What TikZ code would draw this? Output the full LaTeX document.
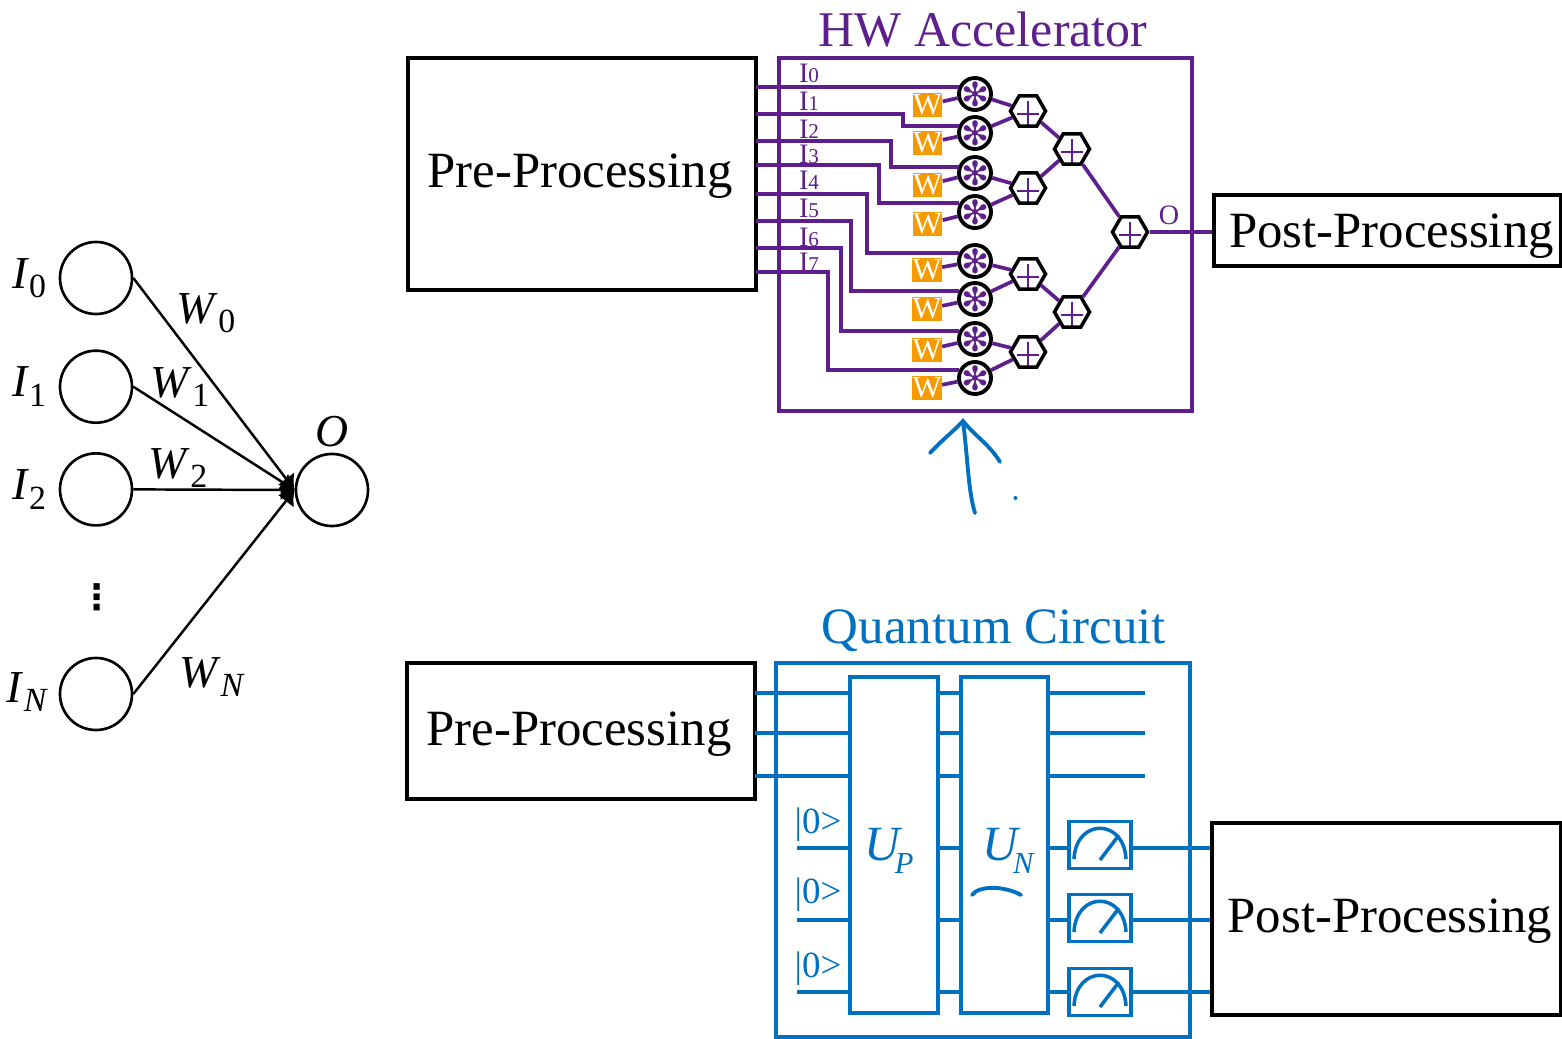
\documentclass[tikz,border=0pt]{standalone}
\usepackage{fontspec}
\setmainfont{Liberation Serif}
\newfontfamily\spokefont{DejaVu Sans}
\usetikzlibrary{positioning,shapes.geometric,arrows.meta}
\definecolor{hwpurple}{HTML}{5E1F8C}
\definecolor{qblue}{HTML}{0070C0}
\definecolor{wgold}{HTML}{F59B00}
\newcommand{\SubLabel}[2]{\textit{#1}\raisebox{-.45ex}{\scalebox{.74}{#2}}}
\newcommand{\GateLabel}[2]{#1\kern-.1em\raisebox{-.6ex}{\scalebox{.62}{#2}}}
\newcommand{\InLabel}[1]{I\scalebox{.75}{#1}}
\newcommand{\Spoke}{\raisebox{-.37em}[0pt][0pt]{\makebox[0pt]{✻}}}
\tikzset{
	neuron/.style={draw, circle, line width=.75pt, minimum size=.72cm, inner sep=0},
	nnedge/.style={line width=.7pt, -{Latex[length=4pt,width=6pt]}},
	nnlabel/.style={font=\fontsize{13}{13}\selectfont, inner sep=0},
	procbox/.style={draw, line width=1pt, inner sep=0},
	proctext/.style={inner sep=0, font=\fontsize{14.45}{15}\selectfont},
	hwbox/.style={draw=hwpurple, line width=1pt, inner sep=0},
	wire/.style={draw=hwpurple, line width=1.05pt},
	inlabel/.style={text=hwpurple, inner sep=0, font=\fontsize{8}{8}\selectfont},
	wbox/.style={fill=wgold, text=white, inner sep=0, minimum width=.29cm, minimum height=.23cm, font=\fontsize{8.7}{9}\selectfont},
	mult/.style={draw, circle, line width=1.1pt, fill=white, minimum size=.32cm, inner sep=0, text=hwpurple, font=\fontsize{9.5}{10}\selectfont\spokefont},
	sumhex/.style={draw, regular polygon, regular polygon sides=6, line width=1pt, fill=white, minimum size=.35cm, inner sep=0,
		path picture={\draw[hwpurple, line width=.65pt, shift={(path picture bounding box.center)}] (-11,3) -- (11,3) (0,-10) -- (0,16);}},
	qbox/.style={draw=qblue, line width=1pt, inner sep=0},
	qwire/.style={draw=qblue, line width=1.05pt},
	qtext/.style={text=qblue, inner sep=0, font=\fontsize{10.5}{11}\selectfont},
	gatelabel/.style={text=qblue, inner sep=0, font=\fontsize{14}{15}\selectfont\itshape},
	meter/.style={draw=qblue, line width=1pt, fill=white, minimum width=.62cm, minimum height=.47cm, inner sep=0,
		path picture={\draw[qblue, line width=1pt, shift={(path picture bounding box.center)}]
			(-26,14) .. controls (-24,-27) and (24,-27) .. (26,14) (0,15) -- (19,-10);}},
	ink/.style={draw=qblue, line width=1.1pt, line cap=round},
}
\begin{document}
\begin{tikzpicture}[x=.01cm, y=-.01cm]
	\useasboundingbox (0,0) rectangle (1562,1039);

	% Define the neuron
	\node[neuron] (I0) at (96,278) {};
	\node[neuron, below=.34cm of I0] (I1) {};
	\node[neuron, below=.28cm of I1] (I2) {};
	\node[neuron] (IN) at (96,694) {};
	\node[neuron] (O) at (332,490) {};
	\node[nnlabel, left=.12cm of I0] (LI0) {\SubLabel{I}{0}};
	\node[nnlabel, left=.12cm of I1] (LI1) {\SubLabel{I}{1}};
	\node[nnlabel, left=.12cm of I2] (LI2) {\SubLabel{I}{2}};
	\node[nnlabel, left=.1cm of IN, yshift=.02cm] (LIN) {\SubLabel{I}{\textit{N}}};
	\node[nnlabel] (L0) at (206,313) {\SubLabel{W}{0}};
	\node[nnlabel] (L1) at (180,387) {\SubLabel{W}{1}};
	\node[nnlabel] (L2) at (178,468) {\SubLabel{W}{2}};
	\node[nnlabel] (LN) at (212,677) {\SubLabel{W}{\textit{N}}};
	\node[nnlabel, above=.05cm of O] (LO) {\textit{O}};
	\node[inner sep=0, font=\fontsize{10}{10}\selectfont\spokefont\bfseries] (dots) at (97,597) {⋮};

	% Connect the neuron
	\draw[nnedge] (I0.east) -- (O.west);
	\draw[nnedge] (I1.east) -- (O.west);
	\draw[nnedge] (I2.east) -- (O.west);
	\draw[nnedge] (IN.east) -- (O.west);

	% Accelerator boxes
	\node[procbox, minimum width=3.48cm, minimum height=2.32cm] (PreA) at (582,174) {};
	\node[proctext] (PreAT) at (580,176) {Pre-Processing};
	\node[hwbox, minimum width=4.13cm, minimum height=3.53cm] (HW) at (985.5,234.5) {};
	\node[procbox, minimum width=3.47cm, minimum height=.71cm] (PostA) at (1387.5,230.5) {};
	\node[proctext] (PostAT) at (1391.5,236.5) {Post-Processing};
	\node[text=hwpurple, inner sep=0, font=\fontsize{14.2}{15}\selectfont] (HWT) at (983,30) {HW Accelerator};

	% Multipliers and weights
	\node[mult] (M0) at (975,94) {\Spoke};
	\node[mult] (M1) at (975,133) {\Spoke};
	\node[mult] (M2) at (975,173) {\Spoke};
	\node[mult] (M3) at (975,212) {\Spoke};
	\node[mult] (M4) at (975,261) {\Spoke};
	\node[mult] (M5) at (975,299) {\Spoke};
	\node[mult] (M6) at (975,339) {\Spoke};
	\node[mult] (M7) at (975,378) {\Spoke};
	\node[wbox] (W0) at (927.5,105) {W};
	\node[wbox] (W1) at (927.5,143) {W};
	\node[wbox] (W2) at (927.5,185) {W};
	\node[wbox] (W3) at (927.5,224) {W};
	\node[wbox] (W4) at (927,270) {W};
	\node[wbox] (W5) at (927,309) {W};
	\node[wbox] (W6) at (927,350) {W};
	\node[wbox] (W7) at (927,388) {W};

	% Adder tree
	\node[sumhex] (S0) at (1028,111) {};
	\node[sumhex] (S1) at (1028,188) {};
	\node[sumhex] (S2) at (1028,274) {};
	\node[sumhex] (S3) at (1028,352) {};
	\node[sumhex] (S4) at (1072,149) {};
	\node[sumhex] (S5) at (1072,312) {};
	\node[sumhex] (S6) at (1130,232) {};

	% Input labels
	\node[inlabel] (T0) at (809,73) {\InLabel{0}};
	\node[inlabel] (T1) at (809,101) {\InLabel{1}};
	\node[inlabel] (T2) at (809,129) {\InLabel{2}};
	\node[inlabel] (T3) at (809,154) {\InLabel{3}};
	\node[inlabel] (T4) at (809,180) {\InLabel{4}};
	\node[inlabel] (T5) at (809,208) {\InLabel{5}};
	\node[inlabel] (T6) at (809,237) {\InLabel{6}};
	\node[inlabel] (T7) at (809,262) {\InLabel{7}};
	\node[text=hwpurple, inner sep=0, font=\fontsize{8}{8}\selectfont] (TO) at (1169,215) {O};

	% Connect the inputs
	\coordinate (P0) at (756,87);
	\coordinate (P1) at (756,114);
	\coordinate (P2) at (756,141);
	\coordinate (P3) at (756,165);
	\coordinate (P4) at (756,194);
	\coordinate (P5) at (756,221);
	\coordinate (P6) at (756,248);
	\coordinate (P7) at (756,272);
	\draw[wire] (P0) -- (P0 -| M0.154);
	\draw[wire] (P1) -| (903,126) -- (M1.154 |- 903,126);
	\draw[wire] (P2) -| (891,167) -- (M2.154 |- 891,167);
	\draw[wire] (P3) -| (879,203) -- (M3.154 |- 879,203);
	\draw[wire] (P4) -| (867,253) -- (M4.154 |- 867,253);
	\draw[wire] (P5) -| (851,291) -- (M5.154 |- 851,291);
	\draw[wire] (P6) -| (841,331) -- (M6.154 |- 841,331);
	\draw[wire] (P7) -| (828,370) -- (M7.154 |- 828,370);

	% Connect the weights
	\draw[wire] (W0) -- (M0);
	\draw[wire] (W1) -- (M1);
	\draw[wire] (W2) -- (M2);
	\draw[wire] (W3) -- (M3);
	\draw[wire] (W4) -- (M4);
	\draw[wire] (W5) -- (M5);
	\draw[wire] (W6) -- (M6);
	\draw[wire] (W7) -- (M7);

	% Connect the adders
	\draw[wire] (M0) -- (S0);
	\draw[wire] (M1) -- (S0);
	\draw[wire] (M2) -- (S1);
	\draw[wire] (M3) -- (S1);
	\draw[wire] (M4) -- (S2);
	\draw[wire] (M5) -- (S2);
	\draw[wire] (M6) -- (S3);
	\draw[wire] (M7) -- (S3);
	\draw[wire] (S0) -- (S4);
	\draw[wire] (S1) -- (S4);
	\draw[wire] (S2) -- (S5);
	\draw[wire] (S3) -- (S5);
	\draw[wire] (S4) -- (S6);
	\draw[wire] (S5) -- (S6);
	\draw[wire] (S6) -- (S6 -| PostA.west);

	% Hand drawn arrow
	\coordinate (InkTail) at (975,513);
	\coordinate (InkTip) at (963,421);
	\coordinate (InkLeft) at (930,453);
	\coordinate (InkRight) at (1000,462);
	\draw[ink] (InkTail) .. controls (968,490) and (968,460) .. (InkTip);
	\draw[ink] (InkLeft) .. controls (942,440) and (955,430) .. (InkTip) .. controls (975,436) and (990,445) .. (InkRight);
	\fill[qblue] (1015.5,498) circle (2);

	% Quantum boxes
	\node[procbox, minimum width=3.48cm, minimum height=1.36cm] (PreQ) at (581,731) {};
	\node[proctext] (PreQT) at (579,734) {Pre-Processing};
	\node[qbox, minimum width=4.14cm, minimum height=3.74cm] (QC) at (983,850) {};
	\node[procbox, minimum width=3.49cm, minimum height=1.92cm] (PostQ) at (1386.5,919) {};
	\node[proctext] (PostQT) at (1390,921) {Post-Processing};
	\node[text=qblue, inner sep=0, font=\fontsize{14.5}{15}\selectfont] (QCT) at (994,631) {Quantum Circuit};

	% Gates and meters
	\node[qbox, minimum width=.88cm, minimum height=3.36cm] (UP) at (894,845) {};
	\node[qbox, minimum width=.87cm, minimum height=3.36cm] (UN) at (1004.5,845) {};
	\node[gatelabel] (LUP) at (889,851) {\GateLabel{U}{P}};
	\node[gatelabel] (LUN) at (1008,851) {\GateLabel{U}{N}};
	\node[meter] (G0) at (1100,845) {};
	\node[meter] (G1) at (1100,918) {};
	\node[meter] (G2) at (1100,992) {};
	\node[qtext] (K0) at (818,825) {|0>};
	\node[qtext] (K1) at (818,895) {|0>};
	\node[qtext] (K2) at (818,969) {|0>};

	% Connect the qubits
	\coordinate (Q0) at (755,693);
	\coordinate (Q1) at (755,733);
	\coordinate (Q2) at (755,776);
	\coordinate (Q3) at (797,848);
	\coordinate (Q4) at (797,920);
	\coordinate (Q5) at (797,992);
	\coordinate (E0) at (1145,693);
	\coordinate (E1) at (1145,733);
	\coordinate (E2) at (1145,776);
	\draw[qwire] (Q0) -- (Q0 -| UP.west) (Q0 -| UP.east) -- (Q0 -| UN.west) (Q0 -| UN.east) -- (E0);
	\draw[qwire] (Q1) -- (Q1 -| UP.west) (Q1 -| UP.east) -- (Q1 -| UN.west) (Q1 -| UN.east) -- (E1);
	\draw[qwire] (Q2) -- (Q2 -| UP.west) (Q2 -| UP.east) -- (Q2 -| UN.west) (Q2 -| UN.east) -- (E2);
	\draw[qwire] (Q3) -- (Q3 -| UP.west) (Q3 -| UP.east) -- (Q3 -| UN.west) (Q3 -| UN.east) -- (Q3 -| G0.west) (Q3 -| G0.east) -- (Q3 -| PostQ.west);
	\draw[qwire] (Q4) -- (Q4 -| UP.west) (Q4 -| UP.east) -- (Q4 -| UN.west) (Q4 -| UN.east) -- (Q4 -| G1.west) (Q4 -| G1.east) -- (Q4 -| PostQ.west);
	\draw[qwire] (Q5) -- (Q5 -| UP.west) (Q5 -| UP.east) -- (Q5 -| UN.west) (Q5 -| UN.east) -- (Q5 -| G2.west) (Q5 -| G2.east) -- (Q5 -| PostQ.west);

	% Hand drawn stroke
	\coordinate (StrokeA) at (972,895);
	\coordinate (StrokeB) at (1021,895);
	\draw[ink] (StrokeA) .. controls (978,886) and (1003,885) .. (StrokeB);
\end{tikzpicture}
\end{document}
